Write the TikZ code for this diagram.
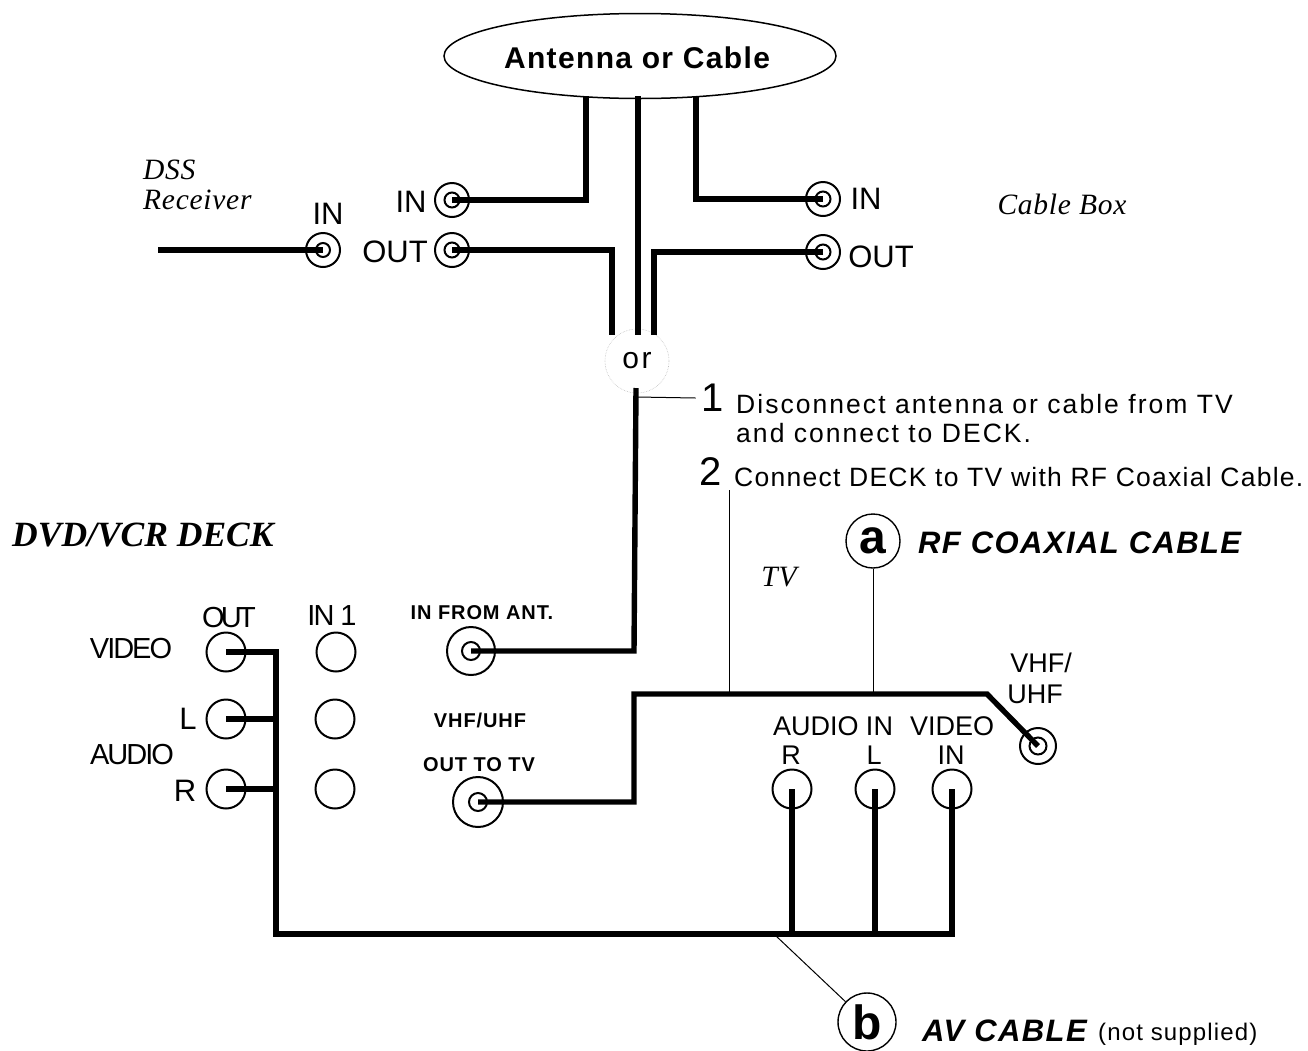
\documentclass[tikz,border=0pt]{standalone}
\usetikzlibrary{shapes.geometric}
\usepackage{fontspec}
\setmainfont{Liberation Sans}
\newfontfamily\serifit{Liberation Serif}
\newfontfamily\serifwide[LetterSpace=2.5]{Liberation Serif}
\newfontfamily\tightsans[LetterSpace=-7]{Liberation Sans}
\newfontfamily\tightersans[LetterSpace=-13]{Liberation Sans}
\newfontfamily\wideA[LetterSpace=7.7]{Liberation Sans}
\newfontfamily\wideB[LetterSpace=4.8]{Liberation Sans}
\newfontfamily\wideC[LetterSpace=4.5]{Liberation Sans}
\newfontfamily\wideD[LetterSpace=8]{Liberation Sans}
\newcommand{\fsz}[1]{\fontsize{#1}{#1}\selectfont}
\tikzset{
  x=1pt,y=-1pt,
  cable/.style={line width=5.4pt,line cap=butt,line join=miter,black},
  thinline/.style={line width=1pt,black},
  jackouter/.style={circle,draw,line width=2pt,inner sep=0pt,minimum size=#1},
  jackinner/.style={circle,draw,line width=2pt,inner sep=0pt,minimum size=#1},
  lbl/.style={inner sep=0pt,font=\fsz{31}},
  tvlbl/.style={inner sep=0pt,font=\fsz{27}},
  tight/.style={inner sep=0pt,font=\tightsans\fsz{29}},
  small/.style={inner sep=0pt,font=\wideC\bfseries\fsz{20}},
  step text/.style={inner sep=0pt,anchor=west,font=\wideA\fsz{26.5}},
  num/.style={inner sep=0pt,font=\fsz{40}},
  ital/.style={inner sep=0pt,font=\serifwide\itshape\fsz{29.5}},
  cabname/.style={inner sep=0pt,anchor=west,font=\wideC\bfseries\itshape\fsz{31}},
  badge/.style={circle,draw,line width=1.4pt,inner sep=0pt,minimum size=#1,font=\bfseries\fsz{48}},
}
\begin{document}
\begin{tikzpicture}
\useasboundingbox (0,0) rectangle (1308,1050);
% source
\node[ellipse,draw,line width=1.5pt,minimum width=392pt,minimum height=85pt,inner sep=0pt] (src) at (640,56) {};
\node[inner sep=0pt,font=\wideC\bfseries\fsz{30}] (srctxt) at (637,58) {Antenna or Cable};
% top jacks
\node[jackouter=34pt] (dssin) at (323,250) {};
\node[jackinner=14pt] (dssini) at (323,250) {};
\node[jackouter=34pt] (lin) at (452,200) {};
\node[jackinner=15pt] (lini) at (452,200) {};
\node[jackouter=34pt] (lout) at (452,250) {};
\node[jackinner=15pt] (louti) at (452,250) {};
\node[jackouter=34pt] (rin) at (823,199) {};
\node[jackinner=15pt] (rini) at (823,199) {};
\node[jackouter=34pt] (rout) at (823,252) {};
\node[jackinner=15pt] (routi) at (823,252) {};
\coordinate (dssend) at (158,250);
\coordinate (s1) at (586,96);
\coordinate (s2) at (638,96);
\coordinate (s3) at (696,96);
% or
\node[circle,draw=gray!50,densely dotted,line width=.6pt,minimum size=64pt,inner sep=0pt,font=\wideD\fsz{30}] (or) at (637,361) {or};
\coordinate (orT1) at (612,335);
\coordinate (orT2) at (638,335);
\coordinate (orT3) at (654,335);
\coordinate (orB) at (636,388);
\draw[cable] (s1) -- (586,200) -- (lin.center);
\draw[cable] (s2) -- (orT2);
\draw[cable] (s3) -- (696,199) -- (rin.center);
\draw[cable] (lout.center) -- (612,250) -- (orT1);
\draw[cable] (rout.center) -- (654,252) -- (orT3);
\draw[cable] (dssend) -- (dssin.center);
% deck jacks
\node[jackouter=39pt] (vout) at (226,652) {};
\node[jackouter=39pt] (lout2) at (226,719) {};
\node[jackouter=39pt] (rout2) at (226,789) {};
\node[jackouter=39pt] (v1) at (336,652) {};
\node[jackouter=39pt] (l1) at (335,719) {};
\node[jackouter=39pt] (r1) at (335,789) {};
\node[jackouter=48pt] (ant) at (471,651) {};
\node[jackinner=18pt] (anti) at (471,651) {};
\node[jackouter=50pt] (ttv) at (478,802) {};
\node[jackinner=18pt] (ttvi) at (478,802) {};
% TV jacks
\node[jackouter=36pt] (vhf) at (1038,746) {};
\node[jackinner=17pt] (vhfi) at (1038,746) {};
\node[jackouter=39pt] (tvr) at (792,789) {};
\node[jackouter=39pt] (tvl) at (875,789) {};
\node[jackouter=39pt] (tvv) at (952,789) {};
% cables
\draw[cable] (orB) -- (634,651) -- (ant.center);
\draw[cable] (ttv.center) -- (634,802) -- (634,694) -- (987,694) -- (vhf.center);
\draw[cable] (vout.center) -- (276,652) -- (276,934) -- (952,934) -- (tvv.center);
\draw[cable] (lout2.center) -- (276,719);
\draw[cable] (rout2.center) -- (276,789);
\coordinate (busR) at (792,934);
\coordinate (busL) at (875,934);
\draw[cable] (tvr.center) -- (busR);
\draw[cable] (tvl.center) -- (busL);
% numbered notes
\node[num] (n1) at (713,398) {1};
\node[num] (n2) at (711,472) {2};
\draw[thinline] (637,397) -- ([xshift=-6pt]n1.west);
\node[step text] (st1a) at (736,404) {Disconnect antenna or cable from TV};
\node[step text] (st1b) at (736,433) {and connect to DECK.};
\node[step text,font=\wideB\fsz{26.5}] (st2) at (734,477) {Connect DECK to TV with RF Coaxial Cable.};
\coordinate (t2) at (729,490);
\coordinate (t2b) at (729,692);
\draw[thinline] (t2) -- (t2b);
% badges
\node[badge=54pt] (a) at (873,541) {a};
\coordinate (ab) at (873,692);
\draw[thinline] (a) -- (ab);
\node[cabname] (acab) at (918,543) {RF COAXIAL CABLE};
\begin{scope}
\clip (0,0) rectangle (1308,1050);
\node[badge=58pt] (b) at (867,1022) {b};
\end{scope}
\coordinate (bt) at (775,935);
\draw[thinline] (bt) -- (b);
\node[cabname] (bcab) at (922,1031) {AV CABLE};
\node[inner sep=0pt,anchor=west,font=\wideB\fsz{24}] (bns) at (1098,1034) {(not supplied)};
% top labels
\node[ital,align=left,anchor=west] (dss) at (143,185) {DSS\\[1pt]Receiver};
\node[ital] (cbox) at (1062,204) {Cable Box};
\node[lbl] (t1) at (328,214) {IN};
\node[lbl] (t2l) at (411,202) {IN};
\node[lbl] (t3) at (395,252) {OUT};
\node[lbl] (t4) at (866,199) {IN};
\node[lbl] (t5) at (881,257) {OUT};
% deck labels
\node[inner sep=0pt,anchor=west,font=\serifit\bfseries\itshape\fsz{35.5}] (deck) at (12,535) {DVD/VCR DECK};
\node[ital] (tvt) at (779,577) {TV};
\node[inner sep=0pt,font=\tightersans\fsz{29}] (o1) at (229,618) {OUT};
\node[tight] (o2) at (332,616) {IN 1};
\node[small] (o3) at (482,613) {IN FROM ANT.};
\node[tight] (o4) at (131,649) {VIDEO};
\node[lbl] (o5) at (188,719) {L};
\node[tight] (o6) at (132,755) {AUDIO};
\node[lbl] (o7) at (185,791) {R};
\node[small] (o8) at (480,720) {VHF/UHF};
\node[small] (o9) at (479,765) {OUT TO TV};
% TV labels
\node[tvlbl] (p1) at (1041,663) {VHF/};
\node[tvlbl] (p2) at (1035,694) {UHF};
\node[tvlbl] (p3) at (833,726) {AUDIO IN};
\node[tvlbl] (p4) at (952,726) {VIDEO};
\node[tvlbl] (p5) at (791,755) {R};
\node[tvlbl] (p6) at (874,755) {L};
\node[tvlbl] (p7) at (951,755) {IN};
\end{tikzpicture}
\end{document}
